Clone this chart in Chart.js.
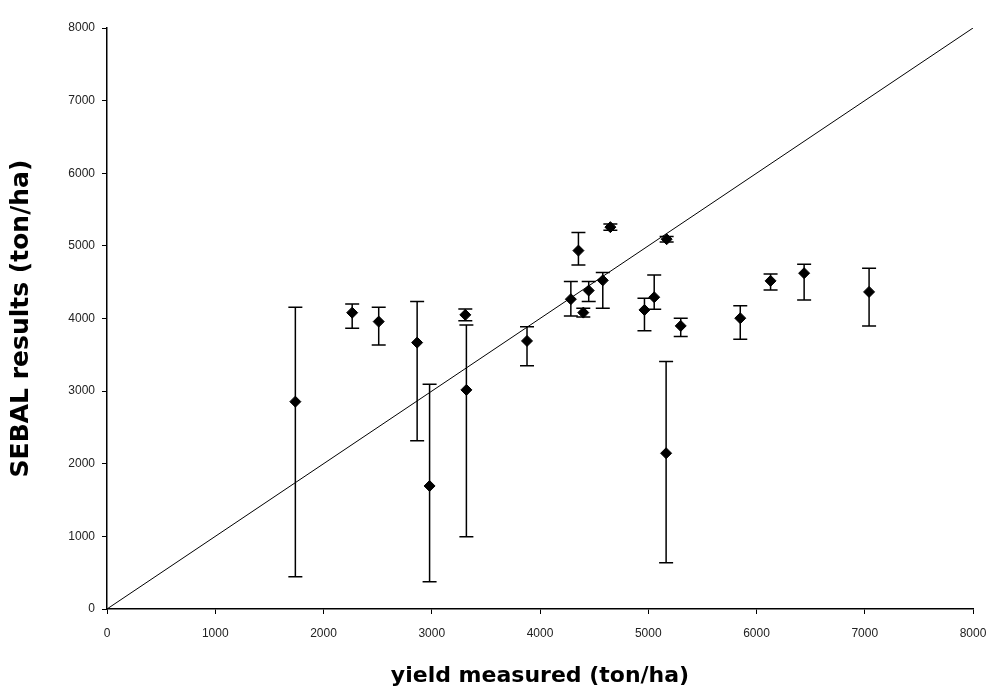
<!DOCTYPE html>
<html>
<head>
<meta charset="utf-8">
<script src="https://cdn.jsdelivr.net/npm/chart.js@4.4.1/dist/chart.umd.min.js"></script>
<style>
  html, body { margin: 0; padding: 0; background: #fff; }
  #wrap { width: 995px; height: 689px; }
</style>
</head>
<body>
<div id="wrap"><canvas id="yieldChart"></canvas></div>
<script>
// measured yield vs SEBAL estimate (ton/ha), with min/max error bars
const yieldMeasured = [1740, 2265, 2510, 2865, 2980, 3310, 3320, 3880, 4285, 4355, 4400, 4450, 4580, 4650, 4965, 5055, 5165, 5170, 5300, 5850, 6130, 6440, 7040];
const sebalResult   = [2855, 4080, 3957, 3668, 1694, 4050, 3017, 3691, 4266, 4935, 4081, 4385, 4525, 5258, 4118, 4293, 2145, 5092, 3898, 4004, 4518, 4624, 4366];
const errorHigh     = [4156, 4200, 4156, 4233, 3095, 4130, 3912, 3888, 4508, 5185, 4140, 4508, 4635, 5300, 4280, 4600, 3407, 5130, 4004, 4174, 4614, 4748, 4693];
const errorLow      = [445, 3866, 3636, 2318, 376, 3970, 996, 3351, 4036, 4735, 4020, 4233, 4140, 5215, 3833, 4128, 638, 5055, 3751, 3715, 4394, 4256, 3898];
const axisTicks = [0, 1000, 2000, 3000, 4000, 5000, 6000, 7000, 8000];
const oneToOne = [0, 8000];

const points = yieldMeasured.map((x, i) => ({ x: x, y: sebalResult[i] }));
const diagonal = oneToOne.map(v => ({ x: v, y: v }));

// vertical error bars drawn through the chart scales
const errorBars = {
    id: 'errorBars',
    beforeDatasetsDraw(chart) {
        const ctx = chart.ctx;
        const xs = chart.scales.x, ys = chart.scales.y;
        ctx.save();
        ctx.strokeStyle = '#000';
        ctx.lineWidth = 1.5;
        yieldMeasured.forEach((x, i) => {
            const px = xs.getPixelForValue(x);
            const top = ys.getPixelForValue(errorHigh[i]);
            const bot = ys.getPixelForValue(errorLow[i]);
            ctx.beginPath();
            ctx.moveTo(px, top); ctx.lineTo(px, bot);
            ctx.moveTo(px - 7, top); ctx.lineTo(px + 7, top);
            ctx.moveTo(px - 7, bot); ctx.lineTo(px + 7, bot);
            ctx.stroke();
        });
        ctx.restore();
    }
};

const tickFont = { family: 'Liberation Sans, Arial, sans-serif', size: 12 };
const xTitleFont = { family: 'DejaVu Sans, Verdana, sans-serif', size: 22, weight: 'bold' };
const yTitleFont = { family: 'DejaVu Sans, Verdana, sans-serif', size: 25, weight: 'bold' };
const plainLabel = v => String(v);

new Chart(document.getElementById('yieldChart').getContext('2d'), {
    type: 'scatter',
    data: {
        datasets: [{
            label: 'SEBAL',
            data: points,
            pointStyle: 'rectRot',
            pointRadius: 5.5,
            backgroundColor: '#000',
            borderColor: '#000',
            borderWidth: 1
        }, {
            type: 'line',
            label: '1:1',
            data: diagonal,
            borderColor: '#000',
            borderWidth: 1,
            pointRadius: 0,
            fill: false
        }]
    },
    options: {
        responsive: true,
        maintainAspectRatio: false,
        animation: false,
        layout: { padding: { top: 28, right: 22, left: 0, bottom: 0 } },
        plugins: {
            legend: { display: false },
            tooltip: { enabled: false }
        },
        scales: {
            x: {
                type: 'linear',
                min: 0, max: 8000,
                afterBuildTicks: s => { s.ticks = axisTicks.map(v => ({ value: v })); },
                afterFit: s => { s.height = 80; s.paddingRight = 0; s.paddingLeft = 0; },
                grid: { display: true, drawOnChartArea: false, tickLength: 5, color: '#000', lineWidth: 1 },
                border: { color: '#000', width: 1.5 },
                ticks: { color: '#222', font: tickFont, padding: 12, maxRotation: 0, callback: plainLabel },
                title: { display: true, text: 'yield measured (ton/ha)', color: '#000', font: xTitleFont, padding: { top: 4, bottom: 0 } }
            },
            y: {
                type: 'linear',
                min: 0, max: 8000,
                afterBuildTicks: s => { s.ticks = axisTicks.map(v => ({ value: v })); },
                afterFit: s => { s.width = 107; },
                grid: { display: true, drawOnChartArea: false, tickLength: 5, color: '#000', lineWidth: 1 },
                border: { color: '#000', width: 1.5 },
                ticks: { color: '#222', font: tickFont, padding: 7, callback: plainLabel },
                title: { display: true, text: 'SEBAL results (ton/ha)', color: '#000', font: yTitleFont, padding: { top: 6, bottom: 0 } }
            }
        }
    },
    plugins: [errorBars]
});
</script>
</body>
</html>
